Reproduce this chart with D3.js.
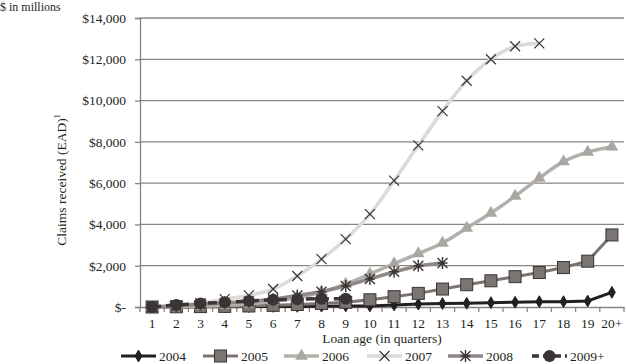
<!DOCTYPE html>
<html><head><meta charset="utf-8">
<script src="https://cdn.jsdelivr.net/npm/d3@7"></script>
<style>body{margin:0;background:#fff}svg{display:block}svg text{font-family:"Times New Roman","Liberation Serif",Tinos,serif !important;fill:#231f20}</style>
</head><body><svg id="c" width="626" height="364"></svg>
<script>
const categories = ["1","2","3","4","5","6","7","8","9","10","11","12","13","14","15","16","17","18","19","20+"];
const s2004 = [0,5,10,15,20,25,30,40,50,50,100,140,170,180,210,230,260,260,290,710];
const s2005 = [0,10,20,30,50,80,120,170,230,350,500,660,870,1080,1270,1470,1670,1910,2220,3490];
const s2006 = [0,20,50,90,150,280,450,720,1110,1600,2100,2590,3100,3820,4550,5370,6250,7040,7500,7760];
const s2007 = [0,80,180,380,560,870,1500,2320,3290,4500,6120,7830,9490,10960,12000,12630,12770];
const s2008 = [0,60,130,200,270,380,560,740,1020,1360,1710,2000,2130];
const s2009 = [0,100,170,230,290,350,380,400,400];
const seriesNames = ["2004","2005","2006","2007","2008","2009+"];
const yTicks = [0,2000,4000,6000,8000,10000,12000,14000];

const svg = d3.select("#c");
const m = {l:140, r:624, t:18, b:307};
const x = d3.scaleBand().domain(categories).range([m.l, m.r]);
const cx = d => x(d) + x.bandwidth()/2;
const y = d3.scaleLinear().domain([0,14000]).range([m.b, m.t]);
const fmt = v => v === 0 ? "$-" : "$" + d3.format(",")(v);
const FS = "13px";

// gridlines
svg.append("g").selectAll("line").data(yTicks.filter(v=>v>0)).join("line")
  .attr("x1", m.l).attr("x2", m.r).attr("y1", d=>y(d)).attr("y2", d=>y(d))
  .attr("stroke", "#8a8481").attr("stroke-width", 1.3);

// y axis
const ya = svg.append("g").attr("transform", `translate(${m.l},0)`)
  .call(d3.axisLeft(y).tickValues(yTicks).tickFormat(fmt).tickSize(5).tickPadding(9));
ya.attr("font-family", null);
ya.select(".domain").attr("stroke", "#8a8481").attr("stroke-width", 1.3);
ya.selectAll(".tick line").attr("stroke", "#8a8481").attr("stroke-width", 1.3);
ya.selectAll("text").style("font-size", "13.5px").attr("fill", "#231f20");

// x axis
const xa = svg.append("g").attr("transform", `translate(0,${m.b})`)
  .call(d3.axisBottom(x).tickSize(0).tickPadding(11));
xa.attr("font-family", null);
xa.select(".domain").attr("stroke", "#8a8481").attr("stroke-width", 1.3);
xa.selectAll("text").style("font-size", "13.5px").attr("fill", "#231f20");
xa.append("g").selectAll("line").data(categories.concat(["end"])).join("line")
  .attr("x1", (d,i)=> m.l + i*x.bandwidth()).attr("x2", (d,i)=> m.l + i*x.bandwidth())
  .attr("y1", 0).attr("y2", 5).attr("stroke", "#8a8481").attr("stroke-width", 1.3);

// titles
svg.append("text").attr("x", 0).attr("y", 11).style("font-size", "12px").text("$ in millions");
svg.append("text").attr("x", (m.l+m.r)/2).attr("y", 343).attr("text-anchor", "middle")
  .style("font-size", "13.5px").text("Loan age (in quarters)");
const yt = svg.append("text").attr("transform", `translate(66,180) rotate(-90)`).attr("text-anchor", "middle").style("font-size", "13.5px");
yt.append("tspan").text("Claims received (EAD)");
yt.append("tspan").attr("dy", -6).style("font-size", "8px").text("1");

// series
const defs = [
  {name:"2004", data:s2004, color:"#231f20", w:3, marker:"diamond", mfill:"#231f20", mstroke:"#231f20", curve:d3.curveLinear},
  {name:"2005", data:s2005, color:"#7a7572", w:3, marker:"square", mfill:"#7a7572", mstroke:"#3a3534", curve:d3.curveLinear},
  {name:"2006", data:s2006, color:"#b3b0ac", w:3.5, marker:"triangle", mfill:"#aaa7a3", mstroke:"#aaa7a3", curve:d3.curveCatmullRom},
  {name:"2007", data:s2007, color:"#dcdad6", w:3.5, marker:"x", mfill:"none", mstroke:"#3a3534", curve:d3.curveCatmullRom},
  {name:"2008", data:s2008, color:"#8e8986", w:3.5, marker:"star", mfill:"none", mstroke:"#3a3534", curve:d3.curveLinear},
  {name:"2009+", data:s2009, color:"#3a3534", w:3.5, marker:"circle", mfill:"#3a3534", mstroke:"#3a3534", curve:d3.curveLinear, dash:"9,5"}
];

function drawMarker(g, type, px, py, fill, stroke) {
  if (type === "diamond") {
    g.append("path").attr("d", d3.symbol(d3.symbolDiamond, 40)()).attr("transform", `translate(${px},${py})`).attr("fill", fill).attr("stroke", stroke);
  } else if (type === "square") {
    g.append("rect").attr("x", px-6).attr("y", py-6).attr("width", 12).attr("height", 12).attr("fill", fill).attr("stroke", stroke).attr("stroke-width", 1);
  } else if (type === "triangle") {
    g.append("path").attr("d", d3.symbol(d3.symbolTriangle, 70)()).attr("transform", `translate(${px},${py})`).attr("fill", fill);
  } else if (type === "x") {
    g.append("path").attr("d", `M${px-5},${py-5}L${px+5},${py+5}M${px-5},${py+5}L${px+5},${py-5}`).attr("stroke", stroke).attr("stroke-width", 1.2).attr("fill", "none");
  } else if (type === "star") {
    g.append("path").attr("d", `M${px-5},${py-5}L${px+5},${py+5}M${px-5},${py+5}L${px+5},${py-5}M${px},${py-6}L${px},${py+6}M${px-5},${py}L${px+5},${py}`).attr("stroke", stroke).attr("stroke-width", 1.4).attr("fill", "none");
  } else if (type === "circle") {
    g.append("circle").attr("cx", px).attr("cy", py).attr("r", 6).attr("fill", fill);
  }
}

defs.forEach(s => {
  const g = svg.append("g");
  const pts = s.data.map((v,i)=>[cx(categories[i]), y(v)]);
  g.append("path").attr("d", d3.line().curve(s.curve)(pts)).attr("fill", "none")
    .attr("stroke", s.color).attr("stroke-width", s.w).attr("stroke-dasharray", s.dash || null);
  pts.forEach(p => drawMarker(g, s.marker, p[0], p[1], s.mfill, s.mstroke));
});

// legend
const legX = [121, 203, 284, 367, 448, 532];
const legY = 356;
defs.forEach((s,i) => {
  const g = svg.append("g");
  const x0 = legX[i];
  g.append("line").attr("x1", x0).attr("x2", x0+35).attr("y1", legY).attr("y2", legY)
    .attr("stroke", s.color).attr("stroke-width", s.w).attr("stroke-dasharray", s.dash ? "7,4" : null);
  drawMarker(g, s.marker, x0+17.5, legY, s.mfill, s.mstroke);
  g.append("text").attr("x", x0+38).attr("y", legY+5).style("font-size", "13.5px").text(s.name);
});
</script></body></html>
